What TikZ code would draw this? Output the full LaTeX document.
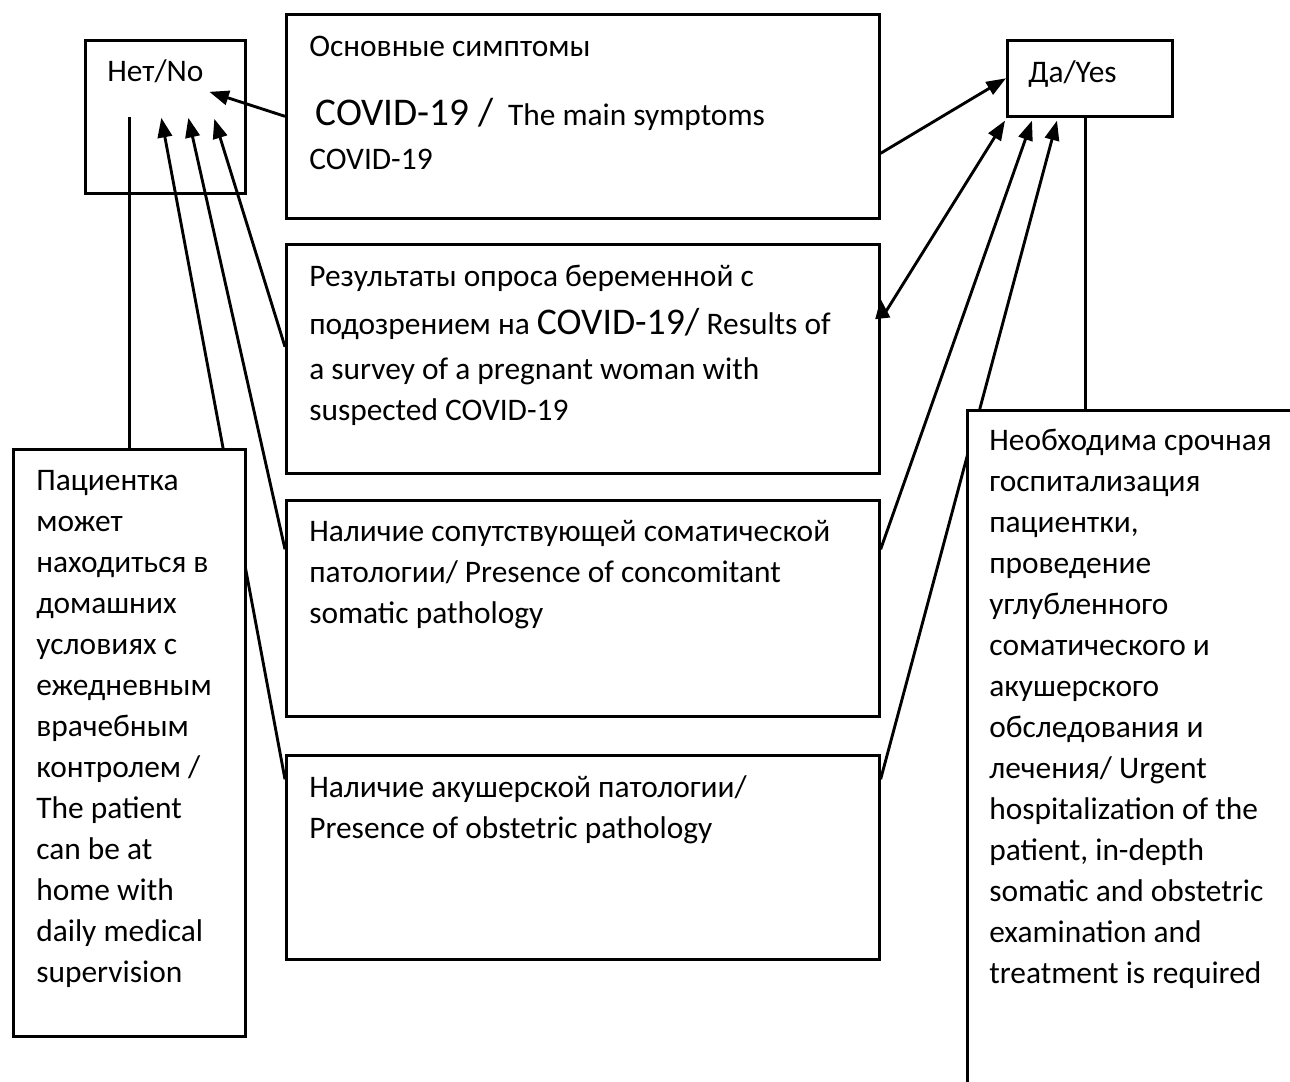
\documentclass[tikz,border=0pt]{standalone}
\usepackage{fontspec}
\setmainfont{Carlito}
\usetikzlibrary{arrows.meta, calc, backgrounds}

\newcommand{\pxu}{0.3822pt}
\newcommand{\covid}[2]{{\fontsize{#1}{15.67}\selectfont #2}}

\tikzset{
  box/.style={draw, rectangle, inner sep=0pt, anchor=north west},
  txt/.style={anchor=north west, align=left, inner sep=0pt,
              font=\fontsize{12}{15.67}\selectfont}
}

\begin{document}
\begin{tikzpicture}[x=0.3822pt, y=-0.3822pt, line width=1pt,
                    >={Triangle[length=7.5pt, width=5.5pt]}]
                  
                  \useasboundingbox (0,0) rectangle (1290,1081);
                  \clip (0,0) rectangle (1290,1081);
                  
                  % Colocamos los recuadros.
                  \node[box, minimum width=160*\pxu, minimum height=153*\pxu] (no) at (84,39) {};
                  \node[box, minimum width=165*\pxu, minimum height=76*\pxu] (da) at (1006,39) {};
                  \node[box, minimum width=593*\pxu, minimum height=204*\pxu] (sym) at (285,13) {};
                  \node[box, minimum width=593*\pxu, minimum height=229*\pxu] (surv) at (285,243) {};
                  \node[box, minimum width=593*\pxu, minimum height=216*\pxu] (som) at (285,499) {};
                  \node[box, minimum width=593*\pxu, minimum height=204*\pxu] (obst) at (285,754) {};
                  \node[box, fill=white, minimum width=232*\pxu, minimum height=587*\pxu] (home) at (12,448) {};
                  \node[box, fill=white, minimum width=400*\pxu, minimum height=800*\pxu] (req) at (966,409) {};
                  
                  % Escribimos los textos.
                  \node[txt] (noT) at (106,58) {Нет/No};
                  \node[txt] (daT) at (1027,59) {Да/Yes};
                  \node[txt] (symT) at (308,35) {Основные симптомы\\[10.8pt]
                      \kern2.4pt\covid{15}{COVID-19 /}\ \ The main symptoms\\[0.8pt]
                      COVID-19};
                  \node[txt] (survT) at (308,264) {Результаты опроса беременной с\\[2.7pt]
                      подозрением на \covid{14.4}{COVID-19/} Results of\\[1.5pt]
                      a survey of a pregnant woman with\\
                      suspected COVID-19};
                  \node[txt] (somT) at (308,519) {Наличие сопутствующей соматической\\
                      патологии/ Presence of concomitant\\
                      somatic pathology};
                  \node[txt] (obstT) at (308,774) {Наличие акушерской патологии/\\
                      Presence of obstetric pathology};
                  \node[txt] (homeT) at (35,469) {Пациентка\\ может\\ находиться в\\
                      домашних\\ условиях с\\ ежедневным\\ врачебным\\ контролем /\\
                      The patient\\ can be at\\ home with\\ daily medical\\ supervision};
                  \node[txt] (reqT) at (988,428) {Необходима срочная\\ госпитализация\\
                      пациентки,\\ проведение\\ углубленного\\ соматического и\\
                      акушерского\\ обследования и\\ лечения/ Urgent\\
                      hospitalization of the\\ patient, in-depth\\
                      somatic and obstetric\\ examination and\\ treatment is required};
                  
                  % Dibujamos las flechas.
                  \coordinate (daL) at ($(da.south)+(-4,0)$);
                  \begin{pgfonlayer}{background}
                  \begin{scope}[line width=1.1pt]
                  \draw[->] (sym.west) -- ($(no.center)+(44,-25)$);
                  \draw (home.north) -- (home.north |- no.center);
                  \draw[->] ($(surv.west)+(0,-12)$) -- ($(no.center)+(49,2)$);
                  \draw[->] ($(som.west)+(0,-59)$) -- ($(no.center)+(23,1)$);
                  \draw[->] ($(obst.west)+(0,-78)$) -- ($(no.center)+(-4,1)$);
                  \draw[->] ($(sym.east)+(0,37)$) -- (da.west);
                  \draw (daL) -- (daL |- req.north);
                  \draw[<->] ($(surv.east)+(0,-60)$) -- ($(surv.east)+(2,-42)$)
                      -- ($(da.south west)+(-1,3)$);
                  \draw[->] ($(som.east)+(0,-59)$) -- ($(da.south west)+(26,3)$);
                  \draw[->] ($(obst.east)+(0,-78)$) -- ($(da.south west)+(51,3)$);
                  \end{scope}
                  \end{pgfonlayer}
                
                \end{tikzpicture}
\end{document}
